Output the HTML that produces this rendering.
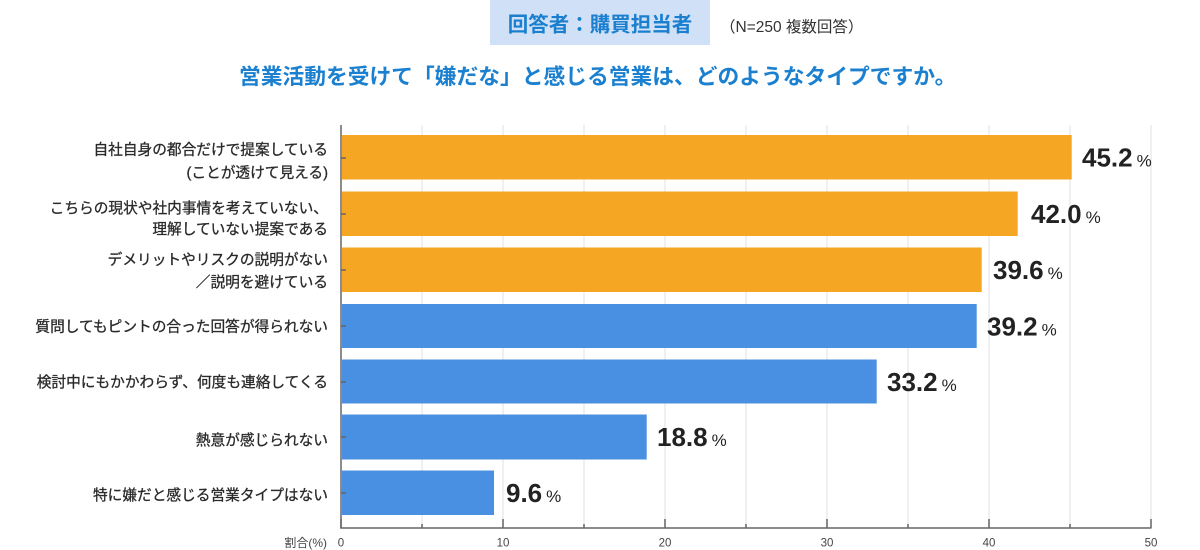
<!DOCTYPE html>
<html><head><meta charset="utf-8"><style>
html,body{margin:0;padding:0;background:#fff;}
svg{display:block;}
.cj{font-family:"Liberation Sans","Noto Sans CJK JP",sans-serif;}
</style></head><body>
<svg width="1200" height="550" viewBox="0 0 1200 550" xmlns="http://www.w3.org/2000/svg" class="cj">
<!-- title -->
<rect x="490" y="0" width="220" height="45" fill="#cfe0f7"/>
<text x="600" y="31.5" text-anchor="middle" font-size="20.5" font-weight="bold" fill="#1b7fcf">回答者：購買担当者</text>
<text x="720" y="32" font-size="15.5" fill="#333">（N=250 複数回答）</text>
<text x="239" y="84" font-size="21.75" font-weight="bold" fill="#1b80cf">営業活動を受けて「嫌だな」と感じる営業は、どのようなタイプですか。</text>

<!-- gridlines -->
<g stroke="#ececec" stroke-width="1.5">
<line x1="422" y1="125" x2="422" y2="528"/>
<line x1="503" y1="125" x2="503" y2="528"/>
<line x1="584" y1="125" x2="584" y2="528"/>
<line x1="665" y1="125" x2="665" y2="528"/>
<line x1="746" y1="125" x2="746" y2="528"/>
<line x1="827" y1="125" x2="827" y2="528"/>
<line x1="908" y1="125" x2="908" y2="528"/>
<line x1="989" y1="125" x2="989" y2="528"/>
<line x1="1070" y1="125" x2="1070" y2="528"/>
<line x1="1151" y1="125" x2="1151" y2="528"/>
</g>

<!-- bars -->
<rect x="342" y="135" width="729.7" height="44.5" fill="#f5a623"/>
<rect x="342" y="191.5" width="675.7" height="44.5" fill="#f5a623"/>
<rect x="342" y="247.5" width="639.7" height="44.5" fill="#f5a623"/>
<rect x="342" y="304" width="634.7" height="44" fill="#4a90e2"/>
<rect x="342" y="359.5" width="534.7" height="44" fill="#4a90e2"/>
<rect x="342" y="414.5" width="304.7" height="45" fill="#4a90e2"/>
<rect x="342" y="470.5" width="152" height="44.5" fill="#4a90e2"/>

<!-- axes -->
<g stroke="#666" stroke-width="1.5">
<line x1="341" y1="125" x2="341" y2="528.5"/>
<line x1="340.3" y1="528" x2="1151.5" y2="528"/>
<line x1="341" y1="519" x2="341" y2="528"/>
<line x1="503" y1="519" x2="503" y2="528"/>
<line x1="665" y1="519" x2="665" y2="528"/>
<line x1="827" y1="519" x2="827" y2="528"/>
<line x1="989" y1="519" x2="989" y2="528"/>
<line x1="1151" y1="519" x2="1151" y2="528"/>
<line x1="422" y1="524" x2="422" y2="528"/>
<line x1="584" y1="524" x2="584" y2="528"/>
<line x1="746" y1="524" x2="746" y2="528"/>
<line x1="908" y1="524" x2="908" y2="528"/>
<line x1="1070" y1="524" x2="1070" y2="528"/>
<line x1="341" y1="158" x2="346" y2="158"/>
<line x1="341" y1="214" x2="346" y2="214"/>
<line x1="341" y1="270" x2="346" y2="270"/>
<line x1="341" y1="326" x2="346" y2="326"/>
<line x1="341" y1="382" x2="346" y2="382"/>
<line x1="341" y1="437" x2="346" y2="437"/>
<line x1="341" y1="493" x2="346" y2="493"/>
</g>

<!-- x tick labels -->
<g font-size="11.5" fill="#444" text-anchor="middle">
<text x="341" y="546.5">0</text>
<text x="503" y="546.5">10</text>
<text x="665" y="546.5">20</text>
<text x="827" y="546.5">30</text>
<text x="989" y="546.5">40</text>
<text x="1151" y="546.5">50</text>
</g>
<text x="327" y="547" font-size="12" fill="#444" text-anchor="end">割合(%)</text>

<!-- category labels -->
<g font-size="14.7" fill="#2a2a2a" stroke="#2a2a2a" stroke-width="0.3" text-anchor="end">
<text x="328" y="154.5">自社自身の都合だけで提案している</text>
<text x="328" y="177.5">(ことが透けて見える)</text>
<text x="328" y="213">こちらの現状や社内事情を考えていない、</text>
<text x="328" y="234">理解していない提案である</text>
<text x="328" y="264.5">デメリットやリスクの説明がない</text>
<text x="328" y="287">／説明を避けている</text>
<text x="328" y="331.5">質問してもピントの合った回答が得られない</text>
<text x="328" y="387">検討中にもかかわらず、何度も連絡してくる</text>
<text x="328" y="445">熱意が感じられない</text>
<text x="328" y="500">特に嫌だと感じる営業タイプはない</text>
</g>

<!-- value labels -->
<g fill="#222">
<text x="1082" y="166.5"><tspan font-size="26" font-weight="bold">45.2</tspan><tspan font-size="17" dx="4">%</tspan></text>
<text x="1031" y="223"><tspan font-size="26" font-weight="bold">42.0</tspan><tspan font-size="17" dx="4">%</tspan></text>
<text x="993" y="279"><tspan font-size="26" font-weight="bold">39.6</tspan><tspan font-size="17" dx="4">%</tspan></text>
<text x="987" y="335.5"><tspan font-size="26" font-weight="bold">39.2</tspan><tspan font-size="17" dx="4">%</tspan></text>
<text x="887" y="391"><tspan font-size="26" font-weight="bold">33.2</tspan><tspan font-size="17" dx="4">%</tspan></text>
<text x="657" y="446"><tspan font-size="26" font-weight="bold">18.8</tspan><tspan font-size="17" dx="4">%</tspan></text>
<text x="506" y="502"><tspan font-size="26" font-weight="bold">9.6</tspan><tspan font-size="17" dx="4">%</tspan></text>
</g>
</svg>
</body></html>
